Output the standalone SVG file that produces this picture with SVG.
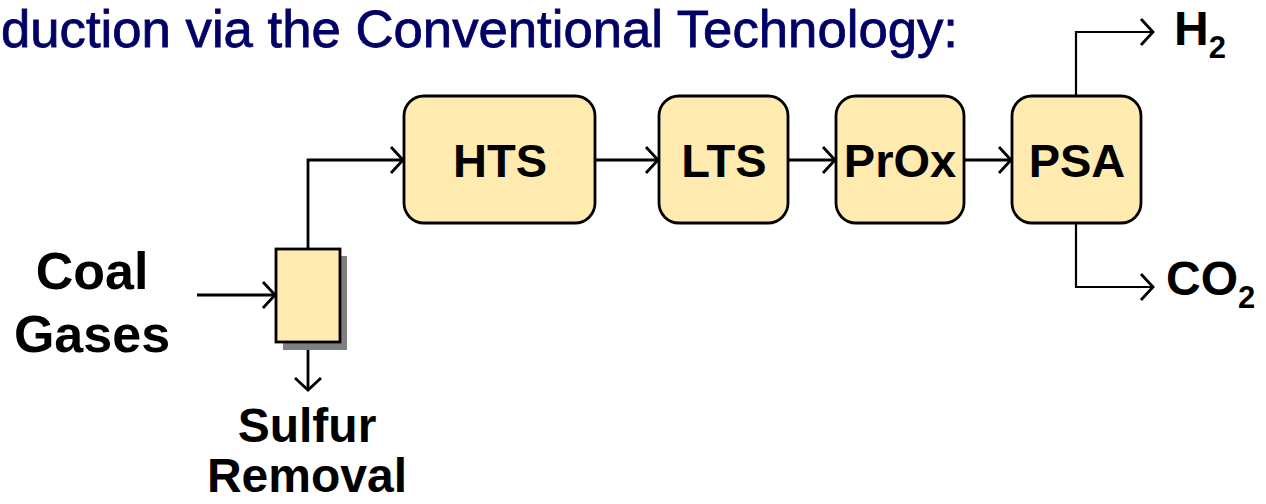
<svg xmlns="http://www.w3.org/2000/svg" width="1266" height="504" viewBox="0 0 1266 504">
<style>
.box{fill:#FFEAB0;stroke:#000;stroke-width:2.8}
.shadow{fill:#808080}
.t{font-family:"Liberation Sans",Arial,sans-serif;font-weight:bold;fill:#000}
.bt{font-size:47px;text-anchor:middle}
.lbl{font-size:48px;text-anchor:middle}
.title{font-family:"Liberation Sans",Arial,sans-serif;font-size:52px;fill:#000066;stroke:#000066;stroke-width:0.8}
.c{fill:none;stroke:#000;stroke-width:2.8;marker-end:url(#ah)}
</style>
<defs>
<marker id="ah" markerUnits="userSpaceOnUse" viewBox="-16 -16 18 32" refX="0" refY="0" markerWidth="18" markerHeight="32" orient="auto">
<path d="M-12,-13 L0,0 L-12,13" fill="none" stroke="#000" stroke-width="2.8"/>
</marker>
</defs>
<rect width="1266" height="504" fill="#fff"/>
<text class="title" x="1" y="47" textLength="957" lengthAdjust="spacingAndGlyphs">duction via the Conventional Technology:</text>
<g id="connectors">
<path class="c" d="M197,295 H275"/>
<path class="c" d="M308,249 V160 H403"/>
<path class="c" d="M308,350 V390"/>
<path class="c" d="M595,160 H658"/>
<path class="c" d="M788,160 H835"/>
<path class="c" d="M964,160 H1011"/>
<path class="c" style="stroke-width:2.2" d="M1076,96 V32 H1153"/>
<path class="c" style="stroke-width:2.2" d="M1076,223 V287 H1153"/>
</g>
<g id="sulfur">
<rect class="shadow" x="283" y="256" width="64" height="94"/>
<rect class="box" x="276" y="249" width="64" height="93"/>
</g>
<g id="hts">
<rect class="box" x="404" y="96" width="191" height="127" rx="20"/>
<text class="t bt" x="500" y="177">HTS</text>
</g>
<g id="lts">
<rect class="box" x="659" y="96" width="129" height="127" rx="20"/>
<text class="t bt" x="724" y="177">LTS</text>
</g>
<g id="prox">
<rect class="box" x="836" y="96" width="128" height="127" rx="20"/>
<text class="t bt" x="900" y="177">PrOx</text>
</g>
<g id="psa">
<rect class="box" x="1012" y="96" width="129" height="127" rx="20"/>
<text class="t bt" x="1077" y="177">PSA</text>
</g>
<g id="coal-gases">
<text class="t" style="font-size:52px;text-anchor:middle" x="92" y="289">Coal</text>
<text class="t" style="font-size:52px;text-anchor:middle" x="92" y="352">Gases</text>
</g>
<g id="sulfur-removal">
<text class="t lbl" x="307" y="442">Sulfur</text>
<text class="t lbl" x="307" y="492">Removal</text>
</g>
<g id="h2">
<text class="t" style="font-size:48px" x="1174" y="45">H<tspan style="font-size:31px" dy="13">2</tspan></text>
</g>
<g id="co2">
<text class="t" style="font-size:48px" x="1166" y="295">CO<tspan style="font-size:31px" dy="13">2</tspan></text>
</g>
</svg>
